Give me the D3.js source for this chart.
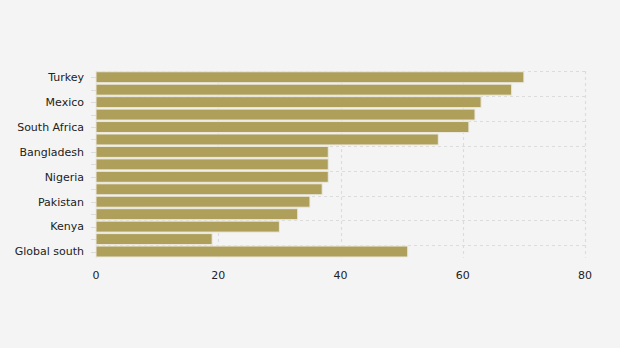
<!DOCTYPE html>
<html><head><meta charset="utf-8">
<script src="https://cdn.jsdelivr.net/npm/d3@7"></script>
<style>
html,body{margin:0;padding:0;background:#f4f4f4;}
svg{display:block;}
text{font-family:"DejaVu Sans",Verdana,sans-serif;}
</style></head>
<body><svg id="c" width="620" height="348"></svg>
<script>
const categories = ["Turkey","Brazil","Mexico","Argentina","South Africa","India","Bangladesh","Indonesia","Nigeria","Philippines","Pakistan","Egypt","Kenya","Vietnam","Global south"];
const values = [70,68,63,62,61,56,38,38,38,37,35,33,30,19,51];
const xTicks = [0,20,40,60,80];

const svg = d3.select("#c");
const m = {left:96, right:35, top:71, bottom:90};
const W = 620, H = 348;
const x = d3.scaleLinear().domain([0,80]).range([m.left, W - m.right]);
const y = d3.scaleBand().domain(categories).range([m.top, m.top + 12.45*15]).paddingInner(0.12).paddingOuter(0.06);
const yb = d3.scaleBand().domain(categories).range([m.top, m.top + 12.45*15]);

const grid = svg.append("g").attr("stroke","#dcdcdc").attr("stroke-dasharray","3,3").attr("stroke-width",1.2);
xTicks.forEach(t => {
  grid.append("line").attr("x1",Math.round(x(t))+0.5).attr("x2",Math.round(x(t))+0.5)
    .attr("y1",yb.range()[0]).attr("y2",yb.range()[1]);
});
categories.forEach((c,i) => {
  if (i % 2 === 0) {
    grid.append("line").attr("x1",x(0)).attr("x2",x(80))
      .attr("y1",Math.round(yb(c))+0.5).attr("y2",Math.round(yb(c))+0.5);
  }
});

svg.append("g").selectAll("rect").data(values).join("rect")
  .attr("x", x(0))
  .attr("y", (d,i) => y(categories[i]))
  .attr("width", d => x(d) - x(0))
  .attr("height", y.bandwidth())
  .attr("fill","#ae9f5a")
  .attr("stroke","#ebe9e0")
  .attr("stroke-width",1);

// y labels (every other)
const yl = svg.append("g");
categories.forEach((c,i) => {
  const cy = yb(c) + yb.bandwidth()/2;
  yl.append("line").attr("x1",x(0)-5).attr("x2",x(0)).attr("y1",Math.round(cy)+0.5).attr("y2",Math.round(cy)+0.5).attr("stroke","#dcdcdc").attr("stroke-width",1);
  if (i % 2 === 0) {
    yl.append("text").attr("x",84).attr("y",cy).attr("dy","0.35em")
      .attr("text-anchor","end").attr("font-size",11).attr("fill","#222").text(c);
  }
});

const xl = svg.append("g");
xTicks.forEach(t => {
  xl.append("text").attr("x",x(t)).attr("y",279).attr("text-anchor","middle")
    .attr("font-size",11).attr("fill","#222").text(t);
});
</script></body></html>
